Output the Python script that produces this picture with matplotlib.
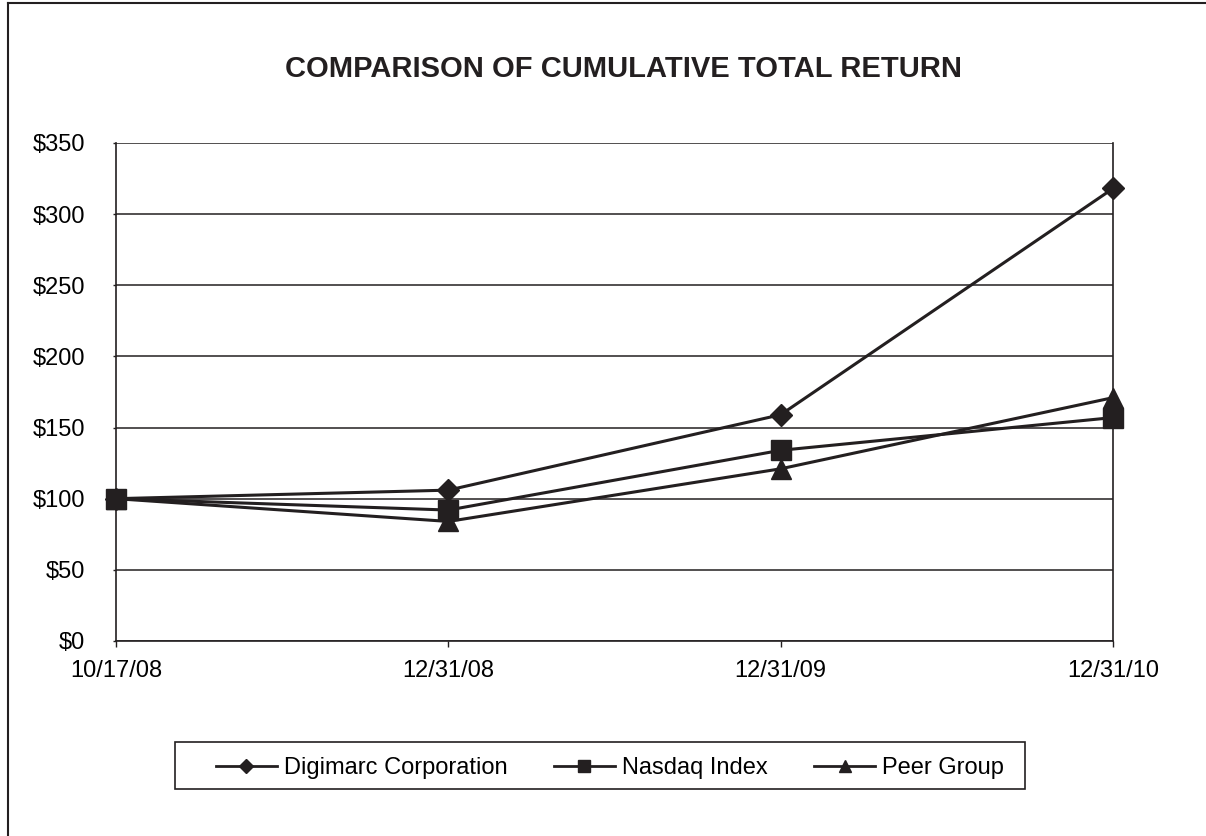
import matplotlib
matplotlib.use("Agg")
import matplotlib.pyplot as plt
from matplotlib.lines import Line2D
from matplotlib.patches import Rectangle

dates = ["10/17/08", "12/31/08", "12/31/09", "12/31/10"]
digimarc = [100, 106, 159, 318]
nasdaq = [100, 92, 134, 157]
peer = [100, 84, 121, 171]
y_ticks = [0, 50, 100, 150, 200, 250, 300, 350]

plt.rcParams.update({'font.family': ['Liberation Sans', 'DejaVu Sans']})
fig = plt.figure(figsize=(12.06, 8.36), dpi=100)
ax = fig.add_axes([0.0962, 0.2333, 0.8267, 0.5957])

ink = '#231f20'
x = range(len(dates))
ax.plot(x, digimarc, color=ink, lw=2.2, marker='D', ms=11, clip_on=False, zorder=5)
ax.plot(x, nasdaq, color=ink, lw=2.2, marker='s', ms=14.5, clip_on=False, zorder=4)
ax.plot(x, peer, color=ink, lw=2.2, marker='^', ms=15, clip_on=False, zorder=3)

ax.set_xlim(0, 3)
ax.set_ylim(0, 350)
ax.set_xticks(list(x))
ax.set_xticklabels(dates, fontsize=17)
ax.set_yticks(y_ticks)
ax.set_yticklabels(["$%d" % v for v in y_ticks], fontsize=17)
ax.yaxis.grid(True, color=ink, lw=1.1)
ax.set_axisbelow(True)
ax.spines['top'].set_visible(False)
for s in ['left', 'bottom', 'right']:
    ax.spines[s].set_color(ink)
    ax.spines[s].set_linewidth(1.2)
ax.tick_params(axis='y', length=2, width=1, color=ink, pad=20)
ax.tick_params(axis='x', length=4, width=1, color=ink, pad=10)

fig.text(0.5174, 0.918, "COMPARISON OF CUMULATIVE TOTAL RETURN", ha='center', va='center',
         fontsize=21, fontweight='bold', color=ink)

# legend box drawn separately so the padding matches the original
fig.add_artist(Rectangle((175 / 1206, 1 - 789 / 836), 850 / 1206, 47 / 836,
                         transform=fig.transFigure, fill=False, edgecolor=ink, lw=1.2))
fig.legend(handles=[
    Line2D([], [], color=ink, lw=2, marker='D', ms=7),
    Line2D([], [], color=ink, lw=2, marker='s', ms=9),
    Line2D([], [], color=ink, lw=2, marker='^', ms=9)],
    labels=["Digimarc Corporation", "Nasdaq Index", "Peer Group"],
    loc='center', bbox_to_anchor=(610 / 1206, 1 - 768 / 836), ncol=3, fontsize=17,
    frameon=False, handlelength=2.6, columnspacing=1.95, handletextpad=0.3,
    borderpad=0, borderaxespad=0)

fig.add_artist(Line2D([8 / 1206, 8 / 1206], [0, 1 - 3 / 836], color=ink, lw=1.5))
fig.add_artist(Line2D([8 / 1206, 1], [1 - 3 / 836, 1 - 3 / 836], color=ink, lw=1.5))

fig.savefig("out.png", dpi=100)
